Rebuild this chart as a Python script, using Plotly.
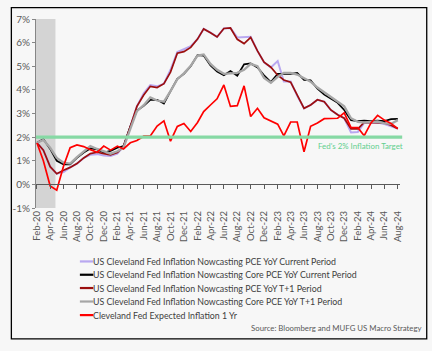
import pandas as pd
import plotly.graph_objects as go

# ---------------- data ----------------
months = pd.date_range("2020-02-01", "2024-08-01", freq="MS")

pce_current = [1.76, 1.45, 0.75, 0.45, 0.52, 0.72, 0.88, 1.12, 1.25, 1.28,
               1.22, 1.20, 1.30, 1.60, 2.45, 3.30, 3.85, 4.20, 4.15, 4.26,
               4.85, 5.60, 5.72, 5.85, 6.15, 6.58, 6.42, 6.24, 6.60, 6.62,
               6.22, 6.25, 6.25, 5.65, 5.17, 4.95, 5.22, 4.35, 4.35, 3.75,
               3.22, 3.36, 3.58, 3.50, 3.15, 2.95, 2.80, 2.20, 2.22, 2.60,
               2.62, 2.62, 2.55, 2.45, 2.36]
core_current = [1.76, 1.92, 1.50, 1.00, 0.85, 0.85, 1.12, 1.35, 1.52, 1.48,
                1.35, 1.42, 1.55, 1.62, 2.45, 3.12, 3.32, 3.58, 3.58, 3.42,
                3.95, 4.47, 4.68, 5.00, 5.47, 5.45, 5.03, 4.78, 4.62, 4.80,
                4.60, 5.08, 5.12, 4.95, 4.62, 4.33, 4.68, 4.68, 4.68, 4.72,
                4.42, 4.40, 4.05, 3.80, 3.64, 3.45, 3.15, 2.72, 2.68, 2.70,
                2.68, 2.70, 2.68, 2.76, 2.77]
pce_t1 = [1.76, 1.45, 0.75, 0.45, 0.60, 0.72, 0.88, 1.12, 1.30, 1.36,
          1.30, 1.25, 1.35, 1.60, 2.45, 3.30, 3.78, 4.15, 4.10, 4.26,
          4.75, 5.55, 5.62, 5.80, 6.15, 6.58, 6.42, 6.24, 6.60, 6.62,
          6.14, 5.96, 6.22, 5.65, 5.17, 4.96, 4.62, 4.42, 4.33, 3.75,
          3.22, 3.36, 3.58, 3.50, 3.15, 2.95, 2.80, 2.35, 2.35, 2.62,
          2.62, 2.62, 2.60, 2.50, 2.36]
core_t1 = [1.76, 1.88, 1.55, 1.12, 0.92, 0.88, 1.15, 1.40, 1.62, 1.50,
           1.40, 1.30, 1.40, 1.55, 2.35, 3.10, 3.35, 3.68, 3.55, 3.50,
           3.95, 4.45, 4.70, 5.02, 5.45, 5.50, 5.10, 4.85, 4.68, 4.70,
           4.72, 4.85, 5.10, 5.00, 4.50, 4.30, 4.55, 4.72, 4.72, 4.65,
           4.50, 4.35, 4.10, 3.90, 3.72, 3.50, 3.30, 2.80, 2.65, 2.62,
           2.65, 2.66, 2.58, 2.56, 2.72]
expected_1yr = [1.75, 1.00, -0.07, -0.25, 0.78, 1.55, 1.67, 1.60, 1.47, 1.36,
                1.62, 1.45, 1.62, 1.50, 1.76, 1.86, 2.04, 2.05, 2.47, 2.69,
                1.83, 2.45, 2.58, 2.24, 2.62, 3.08, 3.36, 3.62, 4.21, 3.30,
                3.33, 4.17, 2.87, 3.22, 2.82, 2.68, 2.55, 2.05, 2.64, 2.64,
                1.38, 2.46, 2.60, 2.78, 2.78, 2.80, 3.03, 2.40, 2.40, 2.06,
                2.60, 2.92, 2.72, 2.58, 2.36]
fed_target = 2.0
recession_end = "2020-04-25"

series_names = [
    "US Cleveland Fed Inflation Nowcasting PCE YoY Current Period",
    "US Cleveland Fed Inflation Nowcasting Core PCE YoY Current Period",
    "US Cleveland Fed Inflation Nowcasting PCE YoY T+1 Period",
    "US Cleveland Fed Inflation Nowcasting Core PCE YoY T+1 Period",
    "Cleveland Fed Expected Inflation 1 Yr",
]
series_values = [pce_current, core_current, pce_t1, core_t1, expected_1yr]
series_colors = ["#b9a8f0", "#000000", "#9b0f0f", "#a6a6a6", "#ff0000"]
series_widths = [2.0, 1.7, 1.7, 2.3, 1.7]

y_tick_vals = [-1, 0, 1, 2, 3, 4, 5, 6, 7]
y_tick_labels = ["-1%", "0%", "1%", "2%", "3%", "4%", "5%", "6%", "7%"]
source_text = "Source: Bloomberg and MUFG US Macro Strategy"
target_text = "Fed's 2% Inflation Target"

# ---------------- figure ----------------
FONT = "Lato"
W, H = 432, 351
ML, MR, MT, MB = 35, 32, 16, 143
PW, PH = W - ML - MR, H - MT - MB
x_range = ["2020-01-27 12:00", "2024-08-11"]


def px_x(p):
    return (p - ML) / PW


def px_y(p):
    return (H - MB - p) / PH


fig = go.Figure()
for i, (name, vals, col, w) in enumerate(zip(series_names, series_values,
                                              series_colors, series_widths)):
    fig.add_trace(go.Scatter(
        x=months, y=vals, mode="lines", name=name,
        line=dict(color=col, width=w), showlegend=False,
        xaxis="x2" if i == 4 else "x",
    ))

tick_common = dict(type="date", range=x_range, tickmode="linear",
                   tick0="2020-02-01", dtick="M2", showgrid=False,
                   zeroline=False)

fig.update_layout(
    width=W, height=H, autosize=False,
    margin=dict(l=ML, r=MR, t=MT, b=MB, pad=0),
    paper_bgcolor="#f7f7f7", plot_bgcolor="#f7f7f7",
    font=dict(family=FONT, color="#595959"),
    xaxis=dict(**tick_common, tickformat="%b-%y", tickangle=-90,
               ticks="", showline=False,
               tickfont=dict(family=FONT, size=9.5, color="#595959")),
    xaxis2=dict(**tick_common, overlaying="x", anchor="free",
                position=0.125, showticklabels=False,
                ticks="outside", ticklen=4, tickcolor="#595959",
                showline=True, linecolor="#595959", linewidth=1),
    yaxis=dict(range=[-1, 7], tickmode="array", tickvals=y_tick_vals,
               ticktext=y_tick_labels, showgrid=False, zeroline=False,
               showline=True, linecolor="#868686", linewidth=1,
               ticks="outside", ticklen=3, tickcolor="#868686",
               tickfont=dict(family=FONT, size=10, color="#595959")),
    showlegend=False,
)

# recession shading
fig.add_shape(type="rect", xref="x", yref="y", x0=x_range[0], x1=recession_end,
              y0=-1, y1=7, fillcolor="#d4d4d4", line_width=0, layer="below")
# Fed target line
fig.add_shape(type="line", xref="x domain", yref="y", x0=0, x1=1.006,
              y0=fed_target, y1=fed_target,
              line=dict(color="#86d9a4", width=3.2), layer="above")
fig.add_annotation(xref="paper", yref="paper", x=px_x(405), y=px_y(145),
                   xanchor="right", yanchor="middle", showarrow=False,
                   text=target_text,
                   font=dict(family=FONT, size=7.9, color="#62cf8e"))

# legend (manual, compact)
row_y = [262.3, 275.8, 289.3, 303.0, 316.8]
for name, col, ry in zip(series_names, series_colors, row_y):
    fig.add_shape(type="line", xref="paper", yref="paper",
                  x0=px_x(79), x1=px_x(92.5), y0=px_y(ry), y1=px_y(ry),
                  line=dict(color=col, width=2.2))
    fig.add_annotation(xref="paper", yref="paper", x=px_x(90.5), y=px_y(ry),
                       xanchor="left", yanchor="middle", showarrow=False,
                       text=name, font=dict(family=FONT, size=8.8, color="#404040"))

fig.add_annotation(xref="paper", yref="paper", x=px_x(424), y=px_y(330),
                   xanchor="right", yanchor="middle", showarrow=False,
                   text=source_text,
                   font=dict(family=FONT, size=7.8, color="#595959"))

# outer border
fig.add_shape(type="rect", xref="paper", yref="paper",
              x0=px_x(10.3), x1=px_x(426.8), y0=px_y(341), y1=px_y(4.5),
              line=dict(color="#000000", width=1.3), fillcolor="rgba(0,0,0,0)")

fig.write_html("out.html")
